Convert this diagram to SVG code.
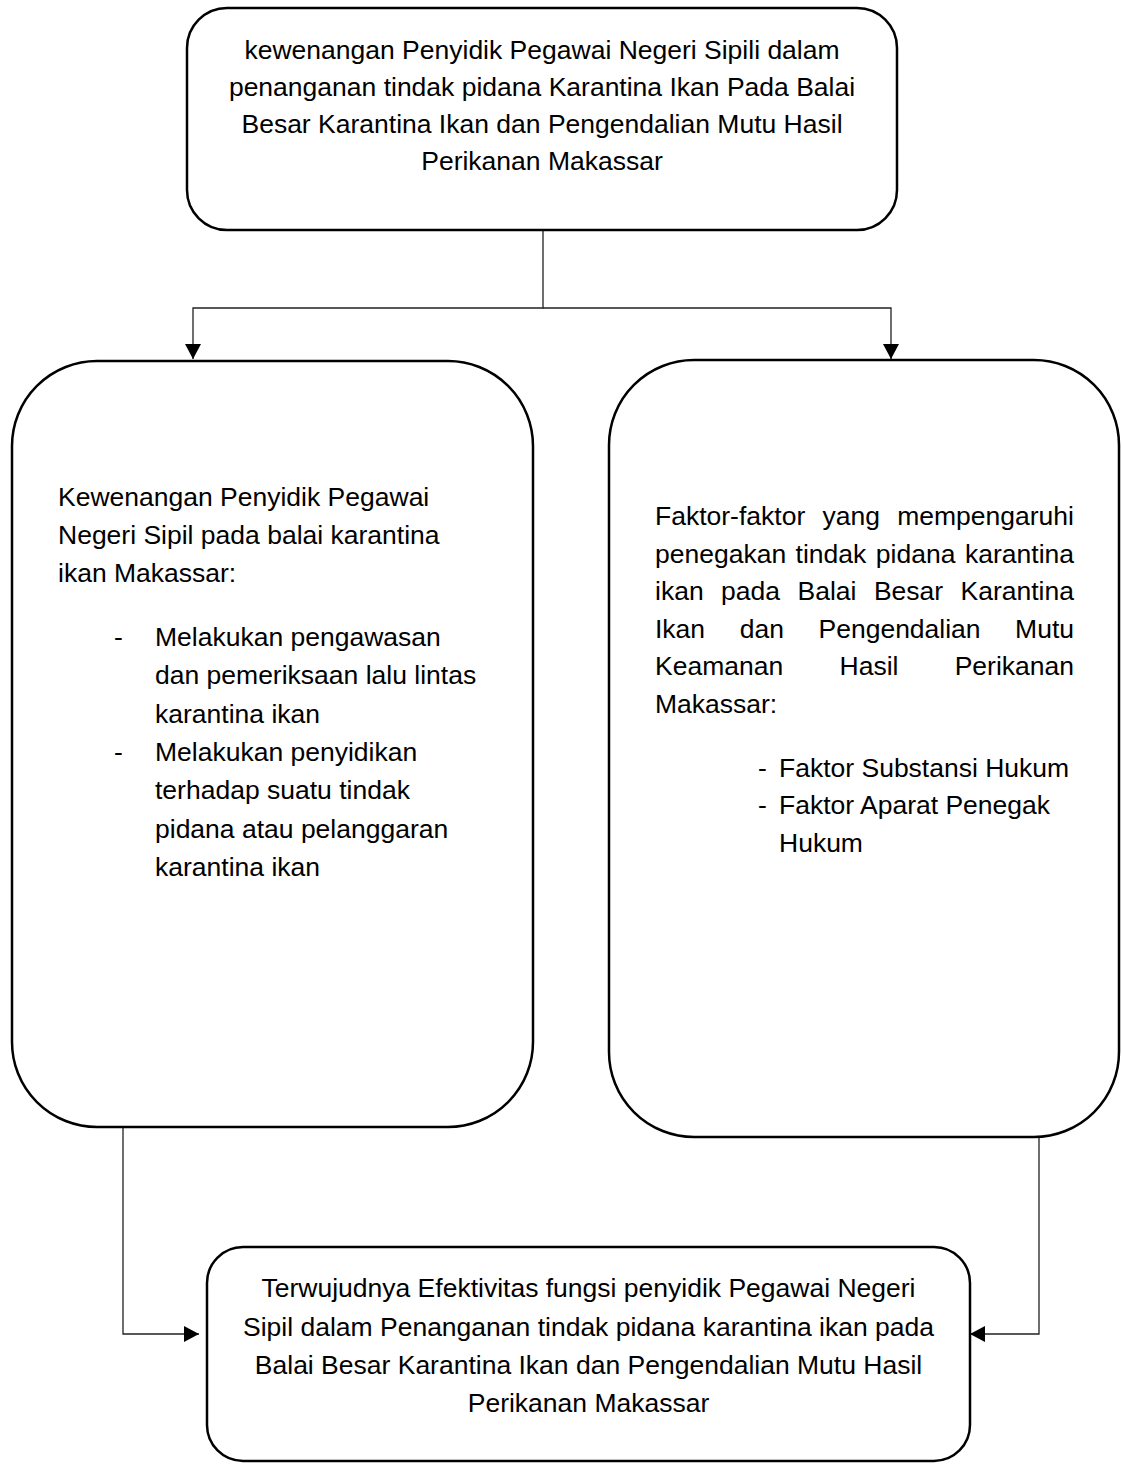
<svg xmlns="http://www.w3.org/2000/svg" width="1122" height="1464" viewBox="0 0 1122 1464">
<defs>
<style>
.box{fill:#fff;stroke:#000;stroke-width:2.5}
.t{font-family:"Liberation Sans",Arial,sans-serif;font-size:26.5px;fill:#000}
.c{text-anchor:middle}
.e{text-anchor:end}
.con{fill:none;stroke:#222;stroke-width:1.3}
</style>
<marker id="ah" markerUnits="userSpaceOnUse" markerWidth="16" markerHeight="16" refX="15" refY="8" orient="auto">
<path d="M0,0 L15,8 L0,16 z" fill="#000"/>
</marker>
</defs>
<rect width="1122" height="1464" fill="#fff"/>
<g id="connectors">
<path class="con" d="M543,230 V308 H193 V359" marker-end="url(#ah)"/>
<path class="con" d="M543,308 H891 V359" marker-end="url(#ah)"/>
<path class="con" d="M123,1127 V1334 H199" marker-end="url(#ah)"/>
<path class="con" d="M1039,1137 V1334 H970" marker-end="url(#ah)"/>
</g>
<g id="node-top">
<rect class="box" x="187" y="8" width="710" height="222" rx="40" ry="40"/>
<text class="t c" x="542" y="59">kewenangan Penyidik Pegawai Negeri Sipili dalam</text>
<text class="t c" x="542" y="96">penanganan tindak pidana Karantina Ikan Pada Balai</text>
<text class="t c" x="542" y="133">Besar Karantina Ikan dan Pengendalian Mutu Hasil</text>
<text class="t c" x="542" y="170">Perikanan Makassar</text>
</g>
<g id="node-left">
<rect class="box" x="12" y="361" width="521" height="766" rx="85" ry="85"/>
<text class="t" x="58" y="506">Kewenangan Penyidik Pegawai</text>
<text class="t" x="58" y="544">Negeri Sipil pada balai karantina</text>
<text class="t" x="58" y="582">ikan Makassar:</text>
<text class="t" x="114" y="646">-</text>
<text class="t" x="155" y="646">Melakukan pengawasan</text>
<text class="t" x="155" y="684">dan pemeriksaan lalu lintas</text>
<text class="t" x="155" y="723">karantina ikan</text>
<text class="t" x="114" y="761">-</text>
<text class="t" x="155" y="761">Melakukan penyidikan</text>
<text class="t" x="155" y="799">terhadap suatu tindak</text>
<text class="t" x="155" y="838">pidana atau pelanggaran</text>
<text class="t" x="155" y="876">karantina ikan</text>
</g>
<g id="node-right">
<rect class="box" x="609" y="360" width="510" height="777" rx="85" ry="85"/>
<text class="t" y="525"><tspan x="655">Faktor-faktor</tspan><tspan x="822.5">yang</tspan><tspan x="1074" text-anchor="end">mempengaruhi</tspan></text>
<text class="t" y="562.5"><tspan x="655">penegakan</tspan><tspan x="795.6">tindak</tspan><tspan x="875.8">pidana</tspan><tspan x="1074" text-anchor="end">karantina</tspan></text>
<text class="t" y="600"><tspan x="655">ikan</tspan><tspan x="721.1">pada</tspan><tspan x="797.5">Balai</tspan><tspan x="873.9">Besar</tspan><tspan x="1074" text-anchor="end">Karantina</tspan></text>
<text class="t" y="637.5"><tspan x="655">Ikan</tspan><tspan x="739.7">dan</tspan><tspan x="818.5">Pengendalian</tspan><tspan x="1074" text-anchor="end">Mutu</tspan></text>
<text class="t" y="675"><tspan x="655">Keamanan</tspan><tspan x="839.5">Hasil</tspan><tspan x="1074" text-anchor="end">Perikanan</tspan></text>
<text class="t" x="655" y="712.5">Makassar:</text>
<text class="t" x="758" y="776.5">-</text>
<text class="t" x="779" y="776.5">Faktor Substansi Hukum</text>
<text class="t" x="758" y="814">-</text>
<text class="t" x="779" y="814">Faktor Aparat Penegak</text>
<text class="t" x="779" y="851.5">Hukum</text>
</g>
<g id="node-bottom">
<rect class="box" x="207" y="1247" width="763" height="214" rx="36" ry="36"/>
<text class="t c" x="588.5" y="1297">Terwujudnya Efektivitas fungsi penyidik Pegawai Negeri</text>
<text class="t c" x="588.5" y="1336">Sipil dalam Penanganan tindak pidana karantina ikan pada</text>
<text class="t c" x="588.5" y="1374">Balai Besar Karantina Ikan dan Pengendalian Mutu Hasil</text>
<text class="t c" x="588.5" y="1412">Perikanan Makassar</text>
</g>
</svg>
